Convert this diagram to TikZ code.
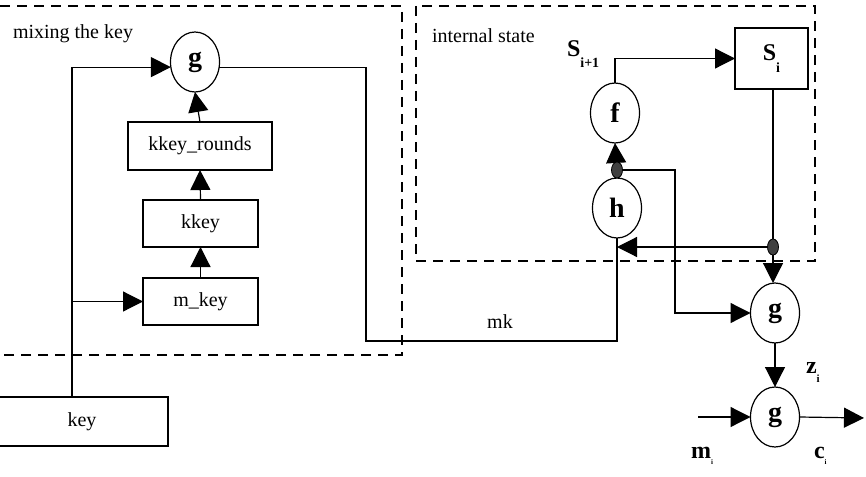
\documentclass[tikz,border=0pt]{standalone}
\usepackage{fontspec}
\setmainfont{Liberation Serif}
\usetikzlibrary{shapes.geometric,arrows.meta,calc}
\begin{document}
\begin{tikzpicture}[x=1pt,y=-1pt,
  every node/.style={inner sep=0pt, outer sep=0pt},
  box/.style={draw, line width=1.2pt, rectangle, font=\fontsize{20}{24}\selectfont},
  ell/.style={draw, line width=1.2pt, ellipse, minimum width=49pt, minimum height=60pt, font=\fontsize{28}{30}\selectfont\bfseries},
  arr/.style={line width=1.2pt, -{Triangle[length=20pt,width=20pt]}},
  ln/.style={line width=1.2pt},
  dbox/.style={line width=1.2pt, dash pattern=on 10pt off 7pt},
  dotn/.style={draw, fill=black!75, ellipse, minimum width=11pt, minimum height=16pt, line width=0.8pt},
  lbl/.style={font=\fontsize{20}{24}\selectfont},
  big/.style={font=\fontsize{24}{26}\selectfont\bfseries},
]
\useasboundingbox (0,0) rectangle (866,476);
\fill[white] (0,0) rectangle (866,476);

% dashed frames
\draw[dbox] (0,6) -| (402,355) -- (0,355);
\draw[dbox] (416,6) rectangle (815,261);

% labels of frames
\node[lbl, anchor=base west] (lmix) at (13,39) {mixing the key};
\node[lbl, anchor=base west] (lint) at (432,43) {internal state};

% left part nodes
\node[ell] (gtop) at (195,62) {g};
\node[box, minimum width=144pt, minimum height=48pt] (kr) at (200,146) {kkey\_rounds};
\node[box, minimum width=115pt, minimum height=47pt] (kk) at (200.5,223.5) {kkey};
\node[box, minimum width=115pt, minimum height=47pt] (mkey) at (200.5,301.5) {m\_key};
\node[box, minimum width=172pt, minimum height=49pt] (key) at (82,421.5) {key};

% right part nodes
\node[ell] (f) at (615,113) {f};
\node[ell] (h) at (617,208) {h};
\node[box, big, minimum width=73pt, minimum height=61pt] (Si) at (771.5,58.5) {S\raisebox{-12pt}{\fontsize{14}{14}\selectfont i}};
\node[ell] (gm) at (775,313) {g};
\node[ell] (gb) at (775,417) {g};

% text labels
\node[big, anchor=base west] (lS) at (567,57) {S\raisebox{-11pt}{\fontsize{14}{14}\selectfont i+1}};
\node[big, anchor=base west] (lz) at (806,373) {z\raisebox{-9pt}{\fontsize{11}{11}\selectfont i}};
\node[big, anchor=base west] (lm) at (691,458) {m\raisebox{-6pt}{\fontsize{7}{7}\selectfont i}};
\node[big, anchor=base west] (lc) at (814,458) {c\raisebox{-6pt}{\fontsize{7}{7}\selectfont i}};
\node[lbl] (lmk) at (500,322) {mk};

% coordinates
\coordinate (ktop) at (72,397);
\coordinate (br) at (72,301.5);
\coordinate (c1) at (366,341);
\coordinate (d1) at (773,247);
\coordinate (d2) at (617,170);
\coordinate (hin) at (617,247);
\coordinate (c2) at (675,313);
\coordinate (min) at (698,417);
\coordinate (cout) at (864,418);

% left connectors
\draw[arr] (ktop) |- (gtop.-168);
\draw[arr] (br) -- (mkey.west);
\draw[arr] (mkey.north) -- (kk.south);
\draw[arr] (kk.north) -- (kr.south);
\draw[arr] (kr.north) -- (gtop.south);
\draw[ln] (gtop.-12) -| (c1) -| (h.south);

% right connectors
\draw[arr] (h.north) -- (f.south);
\draw[arr] (f.north) |- (Si.west);
\draw[ln] (d1 |- Si.south) -- (d1);
\draw[arr] (d1) -- (hin);
\draw[arr] (d1) -- (d1 |- gm.north);
\draw[arr] (d2) -| (c2) -- (gm.west);
\draw[arr] (gm.south) -- (gb.north);
\draw[arr] (min) -- (gb.west);
\draw[arr] (gb.east) -- (cout);

% junction dots
\node[dotn] (d1n) at (d1) {};
\node[dotn] (d2n) at (d2) {};
\end{tikzpicture}
\end{document}
